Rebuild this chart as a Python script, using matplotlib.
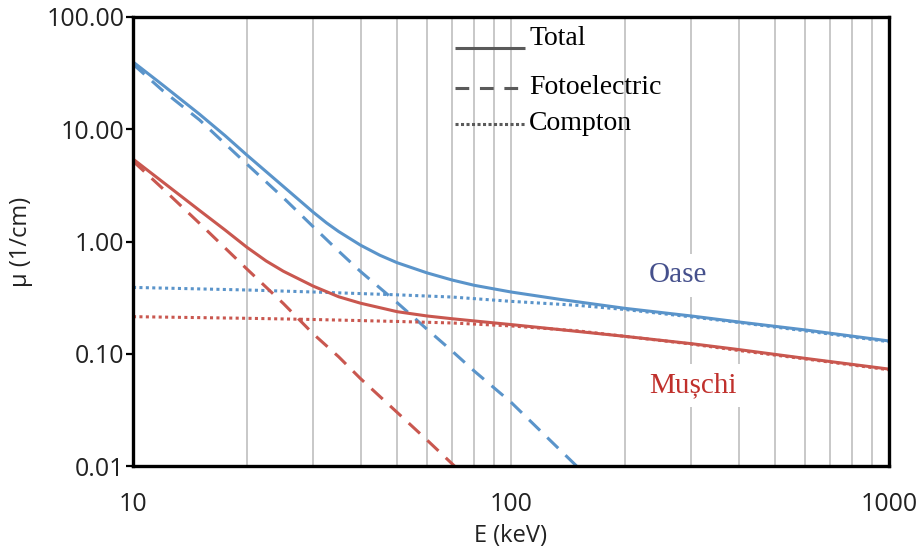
import matplotlib
matplotlib.use("Agg")
import matplotlib.pyplot as plt
from matplotlib.lines import Line2D
from matplotlib.ticker import FixedLocator, FixedFormatter, LogLocator, NullFormatter

# ---- data ----
E_oase_total = [10, 12, 15, 17.5, 20, 25, 30, 32.5, 35, 40, 45, 50, 60, 70, 80, 100, 135, 200, 300, 400, 600, 1000]
oase_total   = [39.8, 24.7, 13.6, 8.8, 5.9, 3.09, 1.82, 1.466, 1.227, 0.927, 0.754, 0.647, 0.525, 0.453, 0.407,
                0.355, 0.305, 0.254, 0.217, 0.192, 0.163, 0.13]

E_oase_photo = [10, 12, 15, 20, 25, 30, 35, 40, 50, 60, 70, 80, 100, 150, 170]
oase_photo   = [38, 22, 12.1, 4.9, 2.45, 1.35, 0.82, 0.54, 0.285, 0.165, 0.105, 0.07, 0.037, 0.0098, 0.0065]

E_compton    = [10, 20, 30, 50, 70, 100, 150, 200, 300, 400, 600, 1000]
oase_compton = [0.39, 0.37, 0.355, 0.335, 0.32, 0.293, 0.27, 0.248, 0.213, 0.19, 0.16, 0.128]
musc_compton = [0.214, 0.207, 0.202, 0.194, 0.188, 0.177, 0.16, 0.143, 0.122, 0.107, 0.09, 0.072]

E_musc_total = [10, 12, 15, 17.5, 20, 22.5, 25, 30, 35, 40, 50, 60, 70, 80, 100, 135, 200, 300, 400, 600, 1000]
musc_total   = [5.43, 3.38, 1.89, 1.27, 0.89, 0.671, 0.543, 0.40, 0.322, 0.282, 0.237, 0.217, 0.205, 0.196,
                0.182, 0.164, 0.143, 0.123, 0.109, 0.091, 0.073]

E_musc_photo = [10, 12, 15, 20, 25, 30, 35, 40, 50, 60, 70, 80]
musc_photo   = [5.2, 2.95, 1.45, 0.57, 0.28, 0.15, 0.094, 0.06, 0.03, 0.017, 0.0104, 0.0067]

y_ticks = [0.01, 0.1, 1, 10, 100]
y_tick_labels = ["0.01", "0.10", "1.00", "10.00", "100.00"]
x_ticks = [10, 100, 1000]
x_tick_labels = ["10", "100", "1000"]

legend_labels = ["Total", "Fotoelectric", "Compton"]

# ---- style ----
BLUE = "#5a94ca"
RED = "#c9574f"
LW = 2.2
DASH = (0, (5, 3.3))
DOT = (0, (1, 1.1))

plt.rcParams['font.family'] = ['Open Sans', 'DejaVu Sans']

fig = plt.figure(figsize=(9.16, 5.5), dpi=100)
ax = fig.add_axes([0.1452, 0.1527, 0.8253, 0.8164])
ax.set_xscale('log')
ax.set_yscale('log')
ax.set_xlim(10, 1000)
ax.set_ylim(0.01, 100)

ax.plot(E_oase_total, oase_total, color=BLUE, lw=LW)
ax.plot(E_oase_photo, oase_photo, color=BLUE, lw=LW, linestyle=DASH)
ax.plot(E_compton, oase_compton, color=BLUE, lw=LW, linestyle=DOT)
ax.plot(E_musc_total, musc_total, color=RED, lw=LW)
ax.plot(E_musc_photo, musc_photo, color=RED, lw=LW, linestyle=DASH)
ax.plot(E_compton, musc_compton, color=RED, lw=LW, linestyle=DOT)

# grid
ax.xaxis.set_major_locator(FixedLocator(x_ticks))
ax.xaxis.set_major_formatter(FixedFormatter(x_tick_labels))
ax.xaxis.set_minor_locator(LogLocator(base=10, subs=range(2, 10)))
ax.xaxis.set_minor_formatter(NullFormatter())
ax.grid(True, which='both', axis='x', color='#c8c8c8', lw=1.4)
ax.set_axisbelow(True)

ax.yaxis.set_major_locator(FixedLocator(y_ticks))
ax.yaxis.set_major_formatter(FixedFormatter(y_tick_labels))
ax.yaxis.set_minor_locator(FixedLocator([]))

ax.tick_params(axis='x', which='both', length=0, pad=19, labelsize=18, labelcolor='#222222')
ax.tick_params(axis='y', which='major', length=5, width=1.6, direction='out', pad=1, labelsize=18, labelcolor='#222222')

for s in ax.spines.values():
    s.set_linewidth(2.4)
    s.set_color('black')

ax.set_xlabel("E (keV)", fontsize=17, labelpad=5, color='#222222')
ax.set_ylabel("μ (1/cm)", fontsize=17, labelpad=10, color='#222222')

# legend (drawn as a key in axes coordinates)
GRAY = '#5a5a5a'
key_styles = ['-', (0, (4.5, 3.5)), (0, (1, 0.8))]
key_line_y = [0.931, 0.842, 0.762]
key_text_y = [0.953, 0.842, 0.762]
for lbl, ls, ly, ty in zip(legend_labels, key_styles, key_line_y, key_text_y):
    ax.add_line(Line2D([0.426, 0.5185], [ly, ly], transform=ax.transAxes, color=GRAY, lw=LW,
                       linestyle=ls, solid_capstyle='butt'))
    ax.text(0.524, ty, lbl, transform=ax.transAxes, ha='left', va='center',
            fontsize=20, family='Liberation Serif', color='black')

ax.text(0.721, 0.425, "Oase", transform=ax.transAxes, ha='center', va='center',
        fontsize=21, family='Liberation Serif', color='#45508c',
        bbox=dict(facecolor='white', edgecolor='none', pad=6))
ax.text(0.741, 0.180, "Mușchi", transform=ax.transAxes, ha='center', va='center',
        fontsize=21, family='Liberation Serif', color='#c0302c',
        bbox=dict(facecolor='white', edgecolor='none', pad=6))

fig.savefig("out.png", dpi=100)
